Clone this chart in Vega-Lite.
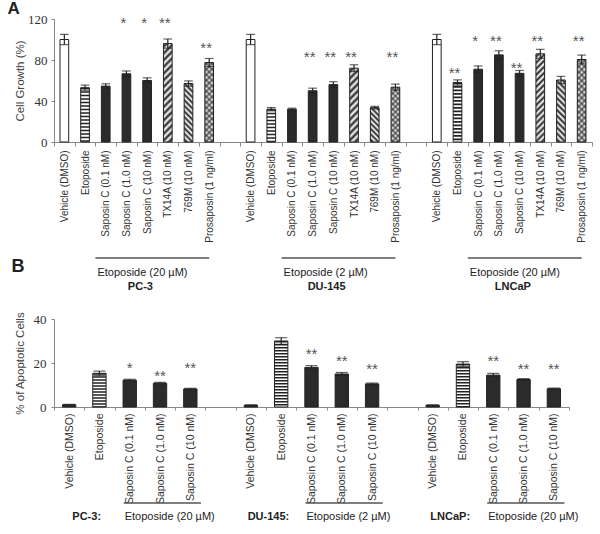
{
"$schema": "https://vega.github.io/schema/vega-lite/v6.json",
"padding": {"left": 7, "top": 0, "right": 0, "bottom": 0},
"background": "white",
"config": {"view": {"stroke": null}, "font": "Liberation Sans"},
"spacing": 0,
"bounds": "flush",
"datasets": {
"a": [
{"key":"PC3|Vehicle (DMSO)","kind":"Vehicle","v":100,"e":5},
{"key":"PC3|Etoposide","kind":"Etoposide","v":53,"e":2.5},
{"key":"PC3|Saposin C (0.1 nM)","kind":"Saposin","v":54.5,"e":2.3},
{"key":"PC3|Saposin C (1.0 nM)","kind":"Saposin","v":66.5,"e":2.8,"star":"*","sy":120},
{"key":"PC3|Saposin C (10 nM)","kind":"Saposin","v":60,"e":2.6,"star":"*","sy":120},
{"key":"PC3|TX14A (10 nM)","kind":"TX14A","v":96,"e":4.5,"star":"**","sy":120},
{"key":"PC3|769M (10 nM)","kind":"769M","v":57,"e":2.6},
{"key":"PC3|Prosaposin (1 ng/ml)","kind":"Prosaposin","v":77.5,"e":4,"star":"**","sy":95},
{"key":"DU|Vehicle (DMSO)","kind":"Vehicle","v":100,"e":5},
{"key":"DU|Etoposide","kind":"Etoposide","v":32,"e":1.6},
{"key":"DU|Saposin C (0.1 nM)","kind":"Saposin","v":32,"e":1},
{"key":"DU|Saposin C (1.0 nM)","kind":"Saposin","v":50,"e":2.5,"star":"**","sy":86},
{"key":"DU|Saposin C (10 nM)","kind":"Saposin","v":56,"e":2.8,"star":"**","sy":86},
{"key":"DU|TX14A (10 nM)","kind":"TX14A","v":72,"e":3.3,"star":"**","sy":86},
{"key":"DU|769M (10 nM)","kind":"769M","v":33.5,"e":1.3},
{"key":"DU|Prosaposin (1 ng/ml)","kind":"Prosaposin","v":53.5,"e":3,"star":"**","sy":86},
{"key":"LN|Vehicle (DMSO)","kind":"Vehicle","v":100,"e":5},
{"key":"LN|Etoposide","kind":"Etoposide","v":58,"e":2.6,"star":"**","sy":71},
{"key":"LN|Saposin C (0.1 nM)","kind":"Saposin","v":71,"e":3.2,"star":"*","sy":102},
{"key":"LN|Saposin C (1.0 nM)","kind":"Saposin","v":85,"e":4,"star":"**","sy":102},
{"key":"LN|Saposin C (10 nM)","kind":"Saposin","v":67,"e":2.8,"star":"**","sy":76},
{"key":"LN|TX14A (10 nM)","kind":"TX14A","v":86,"e":4.4,"star":"**","sy":102},
{"key":"LN|769M (10 nM)","kind":"769M","v":60.5,"e":3.5},
{"key":"LN|Prosaposin (1 ng/ml)","kind":"Prosaposin","v":80.5,"e":4.3,"star":"**","sy":102}
],
"b": [
{"key":"PC3|Vehicle (DMSO)","kind":"Vehicle","v":1,"e":0.2},
{"key":"PC3|Etoposide","kind":"Etoposide","v":15.3,"e":1},
{"key":"PC3|Saposin C (0.1 nM)","kind":"Saposin","v":12.2,"e":0.4,"star":"*","sy":19.4},
{"key":"PC3|Saposin C (1.0 nM)","kind":"Saposin","v":10.8,"e":0.4,"star":"**","sy":15.6},
{"key":"PC3|Saposin C (10 nM)","kind":"Saposin","v":8.2,"e":0.3,"star":"**","sy":19.4},
{"key":"DU|Vehicle (DMSO)","kind":"Vehicle","v":0.8,"e":0.2},
{"key":"DU|Etoposide","kind":"Etoposide","v":30,"e":1.5},
{"key":"DU|Saposin C (0.1 nM)","kind":"Saposin","v":18,"e":0.8,"star":"**","sy":25.6},
{"key":"DU|Saposin C (1.0 nM)","kind":"Saposin","v":15,"e":0.7,"star":"**","sy":22.6},
{"key":"DU|Saposin C (10 nM)","kind":"Saposin","v":10.5,"e":0.4,"star":"**","sy":18.8},
{"key":"LN|Vehicle (DMSO)","kind":"Vehicle","v":0.8,"e":0.2},
{"key":"LN|Etoposide","kind":"Etoposide","v":19.5,"e":1.1},
{"key":"LN|Saposin C (0.1 nM)","kind":"Saposin","v":14.5,"e":0.8,"star":"**","sy":22.6},
{"key":"LN|Saposin C (1.0 nM)","kind":"Saposin","v":12.5,"e":0.4,"star":"**","sy":18.8},
{"key":"LN|Saposin C (10 nM)","kind":"Saposin","v":8.3,"e":0.3,"star":"**","sy":18.8}
],
"annA": [
{"start":"PC3|Saposin C (0.1 nM)","end":"PC3|Prosaposin (1 ng/ml)","dose":"Etoposide (20 µM)","cell":"PC-3"},
{"start":"DU|Saposin C (0.1 nM)","end":"DU|Prosaposin (1 ng/ml)","dose":"Etoposide (2 µM)","cell":"DU-145"},
{"start":"LN|Saposin C (0.1 nM)","end":"LN|Prosaposin (1 ng/ml)","dose":"Etoposide (20 µM)","cell":"LNCaP"}
],
"annB": [
{"start":"PC3|Saposin C (0.1 nM)","end":"PC3|Saposin C (10 nM)","dose":"Etoposide (20 µM)","cell":"PC-3:"},
{"start":"DU|Saposin C (0.1 nM)","end":"DU|Saposin C (10 nM)","dose":"Etoposide (2 µM)","cell":"DU-145:"},
{"start":"LN|Saposin C (0.1 nM)","end":"LN|Saposin C (10 nM)","dose":"Etoposide (20 µM)","cell":"LNCaP:"}
]
},
"vconcat": [
{
"width": 538, "height": 123,
"title": {"text": "A", "anchor": "start", "frame": "bounds", "fontSize": 17, "fontWeight": "bold", "color": "#222", "dx": -7, "offset": -5},
"data": {"name": "a"},
"encoding": {
"x": {"field": "key", "type": "nominal",
"scale": {"domain": ["PC3|Vehicle (DMSO)","PC3|Etoposide","PC3|Saposin C (0.1 nM)","PC3|Saposin C (1.0 nM)","PC3|Saposin C (10 nM)","PC3|TX14A (10 nM)","PC3|769M (10 nM)","PC3|Prosaposin (1 ng/ml)","gap1|","DU|Vehicle (DMSO)","DU|Etoposide","DU|Saposin C (0.1 nM)","DU|Saposin C (1.0 nM)","DU|Saposin C (10 nM)","DU|TX14A (10 nM)","DU|769M (10 nM)","DU|Prosaposin (1 ng/ml)","gap2|","LN|Vehicle (DMSO)","LN|Etoposide","LN|Saposin C (0.1 nM)","LN|Saposin C (1.0 nM)","LN|Saposin C (10 nM)","LN|TX14A (10 nM)","LN|769M (10 nM)","LN|Prosaposin (1 ng/ml)"], "paddingInner": 0, "paddingOuter": 0},
"axis": {"title": null, "labelAngle": -90, "labelExpr": "split(datum.value,'|')[1]", "tickBand": "extent", "tickSize": 4, "labelPadding": 4, "labelFontSize": 10, "labelColor": "#333", "domainColor": "#888", "tickColor": "#888", "labelOverlap": false, "labelLimit": 300}}
},
"layer": [
{"mark": {"type": "bar", "width": {"band": 0.42}, "stroke": "#222", "strokeWidth": 1},
"encoding": {
"y": {"field": "v", "type": "quantitative", "title": "Cell Growth (%)", "scale": {"domain": [0, 120], "nice": false},
"axis": {"values": [0, 40, 80, 120], "grid": false, "tickSize": 3, "labelPadding": 4, "labelFont": "Liberation Serif", "labelFontSize": 13, "labelColor": "#333", "titleFont": "Liberation Sans", "titleFontSize": 11.5, "titleFontWeight": "normal", "titleColor": "#444", "titlePadding": 2, "domainColor": "#888", "tickColor": "#888"}},
"fill": {"condition": [
{"test": "datum.key==='PC3|TX14A (10 nM)'", "value": {"gradient": "linear", "x1": 0, "y1": 0, "x2": 0.0954, "y2": 1.0799, "stops": [{"offset":0,"color":"#fff"},{"offset":0.03125,"color":"#222"},{"offset":0.0625,"color":"#fff"},{"offset":0.09375,"color":"#222"},{"offset":0.125,"color":"#fff"},{"offset":0.15625,"color":"#222"},{"offset":0.1875,"color":"#fff"},{"offset":0.21875,"color":"#222"},{"offset":0.25,"color":"#fff"},{"offset":0.28125,"color":"#222"},{"offset":0.3125,"color":"#fff"},{"offset":0.34375,"color":"#222"},{"offset":0.375,"color":"#fff"},{"offset":0.40625,"color":"#222"},{"offset":0.4375,"color":"#fff"},{"offset":0.46875,"color":"#222"},{"offset":0.5,"color":"#fff"},{"offset":0.53125,"color":"#222"},{"offset":0.5625,"color":"#fff"},{"offset":0.59375,"color":"#222"},{"offset":0.625,"color":"#fff"},{"offset":0.65625,"color":"#222"},{"offset":0.6875,"color":"#fff"},{"offset":0.71875,"color":"#222"},{"offset":0.75,"color":"#fff"},{"offset":0.78125,"color":"#222"},{"offset":0.8125,"color":"#fff"},{"offset":0.84375,"color":"#222"},{"offset":0.875,"color":"#fff"},{"offset":0.90625,"color":"#222"},{"offset":0.9375,"color":"#fff"},{"offset":0.96875,"color":"#222"},{"offset":1,"color":"#fff"}]}},
{"test": "datum.key==='DU|TX14A (10 nM)'", "value": {"gradient": "linear", "x1": 0, "y1": 0, "x2": 0.1299, "y2": 1.1025, "stops": [{"offset":0,"color":"#fff"},{"offset":0.04167,"color":"#222"},{"offset":0.08333,"color":"#fff"},{"offset":0.125,"color":"#222"},{"offset":0.16667,"color":"#fff"},{"offset":0.20833,"color":"#222"},{"offset":0.25,"color":"#fff"},{"offset":0.29167,"color":"#222"},{"offset":0.33333,"color":"#fff"},{"offset":0.375,"color":"#222"},{"offset":0.41667,"color":"#fff"},{"offset":0.45833,"color":"#222"},{"offset":0.5,"color":"#fff"},{"offset":0.54167,"color":"#222"},{"offset":0.58333,"color":"#fff"},{"offset":0.625,"color":"#222"},{"offset":0.66667,"color":"#fff"},{"offset":0.70833,"color":"#222"},{"offset":0.75,"color":"#fff"},{"offset":0.79167,"color":"#222"},{"offset":0.83333,"color":"#fff"},{"offset":0.875,"color":"#222"},{"offset":0.91667,"color":"#fff"},{"offset":0.95833,"color":"#222"},{"offset":1,"color":"#fff"}]}},
{"test": "datum.key==='LN|TX14A (10 nM)'", "value": {"gradient": "linear", "x1": 0, "y1": 0, "x2": 0.1073, "y2": 1.088, "stops": [{"offset":0,"color":"#fff"},{"offset":0.03125,"color":"#222"},{"offset":0.0625,"color":"#fff"},{"offset":0.09375,"color":"#222"},{"offset":0.125,"color":"#fff"},{"offset":0.15625,"color":"#222"},{"offset":0.1875,"color":"#fff"},{"offset":0.21875,"color":"#222"},{"offset":0.25,"color":"#fff"},{"offset":0.28125,"color":"#222"},{"offset":0.3125,"color":"#fff"},{"offset":0.34375,"color":"#222"},{"offset":0.375,"color":"#fff"},{"offset":0.40625,"color":"#222"},{"offset":0.4375,"color":"#fff"},{"offset":0.46875,"color":"#222"},{"offset":0.5,"color":"#fff"},{"offset":0.53125,"color":"#222"},{"offset":0.5625,"color":"#fff"},{"offset":0.59375,"color":"#222"},{"offset":0.625,"color":"#fff"},{"offset":0.65625,"color":"#222"},{"offset":0.6875,"color":"#fff"},{"offset":0.71875,"color":"#222"},{"offset":0.75,"color":"#fff"},{"offset":0.78125,"color":"#222"},{"offset":0.8125,"color":"#fff"},{"offset":0.84375,"color":"#222"},{"offset":0.875,"color":"#fff"},{"offset":0.90625,"color":"#222"},{"offset":0.9375,"color":"#fff"},{"offset":0.96875,"color":"#222"},{"offset":1,"color":"#fff"}]}},
{"test": "datum.key==='PC3|769M (10 nM)'", "value": {"gradient": "linear", "x1": 1, "y1": 0, "x2": 0.8328, "y2": 1.1239, "stops": [{"offset":0,"color":"#fff"},{"offset":0.04167,"color":"#222"},{"offset":0.08333,"color":"#fff"},{"offset":0.125,"color":"#222"},{"offset":0.16667,"color":"#fff"},{"offset":0.20833,"color":"#222"},{"offset":0.25,"color":"#fff"},{"offset":0.29167,"color":"#222"},{"offset":0.33333,"color":"#fff"},{"offset":0.375,"color":"#222"},{"offset":0.41667,"color":"#fff"},{"offset":0.45833,"color":"#222"},{"offset":0.5,"color":"#fff"},{"offset":0.54167,"color":"#222"},{"offset":0.58333,"color":"#fff"},{"offset":0.625,"color":"#222"},{"offset":0.66667,"color":"#fff"},{"offset":0.70833,"color":"#222"},{"offset":0.75,"color":"#fff"},{"offset":0.79167,"color":"#222"},{"offset":0.83333,"color":"#fff"},{"offset":0.875,"color":"#222"},{"offset":0.91667,"color":"#fff"},{"offset":0.95833,"color":"#222"},{"offset":1,"color":"#fff"}]}},
{"test": "datum.key==='DU|769M (10 nM)'", "value": {"gradient": "linear", "x1": 1, "y1": 0, "x2": 0.7017, "y2": 1.1777, "stops": [{"offset":0,"color":"#fff"},{"offset":0.0625,"color":"#222"},{"offset":0.125,"color":"#fff"},{"offset":0.1875,"color":"#222"},{"offset":0.25,"color":"#fff"},{"offset":0.3125,"color":"#222"},{"offset":0.375,"color":"#fff"},{"offset":0.4375,"color":"#222"},{"offset":0.5,"color":"#fff"},{"offset":0.5625,"color":"#222"},{"offset":0.625,"color":"#fff"},{"offset":0.6875,"color":"#222"},{"offset":0.75,"color":"#fff"},{"offset":0.8125,"color":"#222"},{"offset":0.875,"color":"#fff"},{"offset":0.9375,"color":"#222"},{"offset":1,"color":"#fff"}]}},
{"test": "datum.key==='LN|769M (10 nM)'", "value": {"gradient": "linear", "x1": 1, "y1": 0, "x2": 0.8432, "y2": 1.1182, "stops": [{"offset":0,"color":"#fff"},{"offset":0.04167,"color":"#222"},{"offset":0.08333,"color":"#fff"},{"offset":0.125,"color":"#222"},{"offset":0.16667,"color":"#fff"},{"offset":0.20833,"color":"#222"},{"offset":0.25,"color":"#fff"},{"offset":0.29167,"color":"#222"},{"offset":0.33333,"color":"#fff"},{"offset":0.375,"color":"#222"},{"offset":0.41667,"color":"#fff"},{"offset":0.45833,"color":"#222"},{"offset":0.5,"color":"#fff"},{"offset":0.54167,"color":"#222"},{"offset":0.58333,"color":"#fff"},{"offset":0.625,"color":"#222"},{"offset":0.66667,"color":"#fff"},{"offset":0.70833,"color":"#222"},{"offset":0.75,"color":"#fff"},{"offset":0.79167,"color":"#222"},{"offset":0.83333,"color":"#fff"},{"offset":0.875,"color":"#222"},{"offset":0.91667,"color":"#fff"},{"offset":0.95833,"color":"#222"},{"offset":1,"color":"#fff"}]}},
{"test": "datum.key==='PC3|Prosaposin (1 ng/ml)'", "value": {"gradient": "linear", "x1": 0, "y1": 0, "x2": 0.1199, "y2": 1.0963, "stops": [{"offset":0,"color":"#fff"},{"offset":0.03125,"color":"#777"},{"offset":0.0625,"color":"#fff"},{"offset":0.09375,"color":"#777"},{"offset":0.125,"color":"#fff"},{"offset":0.15625,"color":"#777"},{"offset":0.1875,"color":"#fff"},{"offset":0.21875,"color":"#777"},{"offset":0.25,"color":"#fff"},{"offset":0.28125,"color":"#777"},{"offset":0.3125,"color":"#fff"},{"offset":0.34375,"color":"#777"},{"offset":0.375,"color":"#fff"},{"offset":0.40625,"color":"#777"},{"offset":0.4375,"color":"#fff"},{"offset":0.46875,"color":"#777"},{"offset":0.5,"color":"#fff"},{"offset":0.53125,"color":"#777"},{"offset":0.5625,"color":"#fff"},{"offset":0.59375,"color":"#777"},{"offset":0.625,"color":"#fff"},{"offset":0.65625,"color":"#777"},{"offset":0.6875,"color":"#fff"},{"offset":0.71875,"color":"#777"},{"offset":0.75,"color":"#fff"},{"offset":0.78125,"color":"#777"},{"offset":0.8125,"color":"#fff"},{"offset":0.84375,"color":"#777"},{"offset":0.875,"color":"#fff"},{"offset":0.90625,"color":"#777"},{"offset":0.9375,"color":"#fff"},{"offset":0.96875,"color":"#777"},{"offset":1,"color":"#fff"}]}},
{"test": "datum.key==='DU|Prosaposin (1 ng/ml)'", "value": {"gradient": "linear", "x1": 0, "y1": 0, "x2": 0.1792, "y2": 1.1302, "stops": [{"offset":0,"color":"#fff"},{"offset":0.04167,"color":"#777"},{"offset":0.08333,"color":"#fff"},{"offset":0.125,"color":"#777"},{"offset":0.16667,"color":"#fff"},{"offset":0.20833,"color":"#777"},{"offset":0.25,"color":"#fff"},{"offset":0.29167,"color":"#777"},{"offset":0.33333,"color":"#fff"},{"offset":0.375,"color":"#777"},{"offset":0.41667,"color":"#fff"},{"offset":0.45833,"color":"#777"},{"offset":0.5,"color":"#fff"},{"offset":0.54167,"color":"#777"},{"offset":0.58333,"color":"#fff"},{"offset":0.625,"color":"#777"},{"offset":0.66667,"color":"#fff"},{"offset":0.70833,"color":"#777"},{"offset":0.75,"color":"#fff"},{"offset":0.79167,"color":"#777"},{"offset":0.83333,"color":"#fff"},{"offset":0.875,"color":"#777"},{"offset":0.91667,"color":"#fff"},{"offset":0.95833,"color":"#777"},{"offset":1,"color":"#fff"}]}},
{"test": "datum.key==='LN|Prosaposin (1 ng/ml)'", "value": {"gradient": "linear", "x1": 0, "y1": 0, "x2": 0.1151, "y2": 1.0932, "stops": [{"offset":0,"color":"#fff"},{"offset":0.03125,"color":"#777"},{"offset":0.0625,"color":"#fff"},{"offset":0.09375,"color":"#777"},{"offset":0.125,"color":"#fff"},{"offset":0.15625,"color":"#777"},{"offset":0.1875,"color":"#fff"},{"offset":0.21875,"color":"#777"},{"offset":0.25,"color":"#fff"},{"offset":0.28125,"color":"#777"},{"offset":0.3125,"color":"#fff"},{"offset":0.34375,"color":"#777"},{"offset":0.375,"color":"#fff"},{"offset":0.40625,"color":"#777"},{"offset":0.4375,"color":"#fff"},{"offset":0.46875,"color":"#777"},{"offset":0.5,"color":"#fff"},{"offset":0.53125,"color":"#777"},{"offset":0.5625,"color":"#fff"},{"offset":0.59375,"color":"#777"},{"offset":0.625,"color":"#fff"},{"offset":0.65625,"color":"#777"},{"offset":0.6875,"color":"#fff"},{"offset":0.71875,"color":"#777"},{"offset":0.75,"color":"#fff"},{"offset":0.78125,"color":"#777"},{"offset":0.8125,"color":"#fff"},{"offset":0.84375,"color":"#777"},{"offset":0.875,"color":"#fff"},{"offset":0.90625,"color":"#777"},{"offset":0.9375,"color":"#fff"},{"offset":0.96875,"color":"#777"},{"offset":1,"color":"#fff"}]}},
{"test": "datum.kind==='Saposin'", "value": "#2b2b2b"}
], "value": "#ffffff"}
}},
{"transform": [{"filter": "datum.kind==='Prosaposin'"}],
"mark": {"type": "bar", "width": {"band": 0.42}, "strokeWidth": 0},
"encoding": {
"y": {"field": "v", "type": "quantitative", "title": "Cell Growth (%)"},
"fill": {"condition": [
{"test": "datum.key==='PC3|Prosaposin (1 ng/ml)'", "value": {"gradient": "linear", "x1": 1, "y1": 0, "x2": 0.8801, "y2": 1.0963, "stops": [{"offset":0,"color":"rgba(0,0,0,0)"},{"offset":0.03125,"color":"rgba(34,34,34,0.6)"},{"offset":0.0625,"color":"rgba(0,0,0,0)"},{"offset":0.09375,"color":"rgba(34,34,34,0.6)"},{"offset":0.125,"color":"rgba(0,0,0,0)"},{"offset":0.15625,"color":"rgba(34,34,34,0.6)"},{"offset":0.1875,"color":"rgba(0,0,0,0)"},{"offset":0.21875,"color":"rgba(34,34,34,0.6)"},{"offset":0.25,"color":"rgba(0,0,0,0)"},{"offset":0.28125,"color":"rgba(34,34,34,0.6)"},{"offset":0.3125,"color":"rgba(0,0,0,0)"},{"offset":0.34375,"color":"rgba(34,34,34,0.6)"},{"offset":0.375,"color":"rgba(0,0,0,0)"},{"offset":0.40625,"color":"rgba(34,34,34,0.6)"},{"offset":0.4375,"color":"rgba(0,0,0,0)"},{"offset":0.46875,"color":"rgba(34,34,34,0.6)"},{"offset":0.5,"color":"rgba(0,0,0,0)"},{"offset":0.53125,"color":"rgba(34,34,34,0.6)"},{"offset":0.5625,"color":"rgba(0,0,0,0)"},{"offset":0.59375,"color":"rgba(34,34,34,0.6)"},{"offset":0.625,"color":"rgba(0,0,0,0)"},{"offset":0.65625,"color":"rgba(34,34,34,0.6)"},{"offset":0.6875,"color":"rgba(0,0,0,0)"},{"offset":0.71875,"color":"rgba(34,34,34,0.6)"},{"offset":0.75,"color":"rgba(0,0,0,0)"},{"offset":0.78125,"color":"rgba(34,34,34,0.6)"},{"offset":0.8125,"color":"rgba(0,0,0,0)"},{"offset":0.84375,"color":"rgba(34,34,34,0.6)"},{"offset":0.875,"color":"rgba(0,0,0,0)"},{"offset":0.90625,"color":"rgba(34,34,34,0.6)"},{"offset":0.9375,"color":"rgba(0,0,0,0)"},{"offset":0.96875,"color":"rgba(34,34,34,0.6)"},{"offset":1,"color":"rgba(0,0,0,0)"}]}},
{"test": "datum.key==='DU|Prosaposin (1 ng/ml)'", "value": {"gradient": "linear", "x1": 1, "y1": 0, "x2": 0.8208, "y2": 1.1302, "stops": [{"offset":0,"color":"rgba(0,0,0,0)"},{"offset":0.04167,"color":"rgba(34,34,34,0.6)"},{"offset":0.08333,"color":"rgba(0,0,0,0)"},{"offset":0.125,"color":"rgba(34,34,34,0.6)"},{"offset":0.16667,"color":"rgba(0,0,0,0)"},{"offset":0.20833,"color":"rgba(34,34,34,0.6)"},{"offset":0.25,"color":"rgba(0,0,0,0)"},{"offset":0.29167,"color":"rgba(34,34,34,0.6)"},{"offset":0.33333,"color":"rgba(0,0,0,0)"},{"offset":0.375,"color":"rgba(34,34,34,0.6)"},{"offset":0.41667,"color":"rgba(0,0,0,0)"},{"offset":0.45833,"color":"rgba(34,34,34,0.6)"},{"offset":0.5,"color":"rgba(0,0,0,0)"},{"offset":0.54167,"color":"rgba(34,34,34,0.6)"},{"offset":0.58333,"color":"rgba(0,0,0,0)"},{"offset":0.625,"color":"rgba(34,34,34,0.6)"},{"offset":0.66667,"color":"rgba(0,0,0,0)"},{"offset":0.70833,"color":"rgba(34,34,34,0.6)"},{"offset":0.75,"color":"rgba(0,0,0,0)"},{"offset":0.79167,"color":"rgba(34,34,34,0.6)"},{"offset":0.83333,"color":"rgba(0,0,0,0)"},{"offset":0.875,"color":"rgba(34,34,34,0.6)"},{"offset":0.91667,"color":"rgba(0,0,0,0)"},{"offset":0.95833,"color":"rgba(34,34,34,0.6)"},{"offset":1,"color":"rgba(0,0,0,0)"}]}}
], "value": {"gradient": "linear", "x1": 1, "y1": 0, "x2": 0.8849, "y2": 1.0932, "stops": [{"offset":0,"color":"rgba(0,0,0,0)"},{"offset":0.03125,"color":"rgba(34,34,34,0.6)"},{"offset":0.0625,"color":"rgba(0,0,0,0)"},{"offset":0.09375,"color":"rgba(34,34,34,0.6)"},{"offset":0.125,"color":"rgba(0,0,0,0)"},{"offset":0.15625,"color":"rgba(34,34,34,0.6)"},{"offset":0.1875,"color":"rgba(0,0,0,0)"},{"offset":0.21875,"color":"rgba(34,34,34,0.6)"},{"offset":0.25,"color":"rgba(0,0,0,0)"},{"offset":0.28125,"color":"rgba(34,34,34,0.6)"},{"offset":0.3125,"color":"rgba(0,0,0,0)"},{"offset":0.34375,"color":"rgba(34,34,34,0.6)"},{"offset":0.375,"color":"rgba(0,0,0,0)"},{"offset":0.40625,"color":"rgba(34,34,34,0.6)"},{"offset":0.4375,"color":"rgba(0,0,0,0)"},{"offset":0.46875,"color":"rgba(34,34,34,0.6)"},{"offset":0.5,"color":"rgba(0,0,0,0)"},{"offset":0.53125,"color":"rgba(34,34,34,0.6)"},{"offset":0.5625,"color":"rgba(0,0,0,0)"},{"offset":0.59375,"color":"rgba(34,34,34,0.6)"},{"offset":0.625,"color":"rgba(0,0,0,0)"},{"offset":0.65625,"color":"rgba(34,34,34,0.6)"},{"offset":0.6875,"color":"rgba(0,0,0,0)"},{"offset":0.71875,"color":"rgba(34,34,34,0.6)"},{"offset":0.75,"color":"rgba(0,0,0,0)"},{"offset":0.78125,"color":"rgba(34,34,34,0.6)"},{"offset":0.8125,"color":"rgba(0,0,0,0)"},{"offset":0.84375,"color":"rgba(34,34,34,0.6)"},{"offset":0.875,"color":"rgba(0,0,0,0)"},{"offset":0.90625,"color":"rgba(34,34,34,0.6)"},{"offset":0.9375,"color":"rgba(0,0,0,0)"},{"offset":0.96875,"color":"rgba(34,34,34,0.6)"},{"offset":1,"color":"rgba(0,0,0,0)"}]}}
}},
{"transform": [{"filter": "datum.kind==='Etoposide'"}],
"mark": {"type": "rule", "strokeWidth": 8.7, "strokeDash": [1.6, 1.9], "color": "#222"},
"encoding": {"y": {"field": "v", "type": "quantitative", "title": "Cell Growth (%)"}, "y2": {"datum": 0}}},
{"mark": {"type": "errorbar", "ticks": {"size": 8.7, "thickness": 1.2, "color": "#222"}, "rule": {"color": "#222", "strokeWidth": 1.2}},
"encoding": {"y": {"field": "v", "type": "quantitative", "title": "Cell Growth (%)"}, "yError": {"field": "e"}}},
{"transform": [{"filter": "isValid(datum.star)"}],
"mark": {"type": "text", "fontSize": 15, "color": "#555", "dx": -3, "dy": 8.5, "baseline": "alphabetic"},
"encoding": {"y": {"field": "sy", "type": "quantitative", "title": "Cell Growth (%)"}, "text": {"field": "star"}}}
]
},
{
"width": 538, "height": 177,
"data": {"name": "annA"},
"encoding": {
"x": {"field": "start", "type": "nominal", "bandPosition": 0,
"scale": {"domain": ["PC3|Vehicle (DMSO)","PC3|Etoposide","PC3|Saposin C (0.1 nM)","PC3|Saposin C (1.0 nM)","PC3|Saposin C (10 nM)","PC3|TX14A (10 nM)","PC3|769M (10 nM)","PC3|Prosaposin (1 ng/ml)","gap1|","DU|Vehicle (DMSO)","DU|Etoposide","DU|Saposin C (0.1 nM)","DU|Saposin C (1.0 nM)","DU|Saposin C (10 nM)","DU|TX14A (10 nM)","DU|769M (10 nM)","DU|Prosaposin (1 ng/ml)","gap2|","LN|Vehicle (DMSO)","LN|Etoposide","LN|Saposin C (0.1 nM)","LN|Saposin C (1.0 nM)","LN|Saposin C (10 nM)","LN|TX14A (10 nM)","LN|769M (10 nM)","LN|Prosaposin (1 ng/ml)"], "paddingInner": 0, "paddingOuter": 0},
"axis": null}
},
"layer": [
{"mark": {"type": "rule", "color": "#555", "strokeWidth": 1.3},
"encoding": {"x2": {"field": "end", "bandPosition": 0.5},
"y": {"datum": "rule", "type": "ordinal", "scale": {"type": "point", "domain": ["rule", "dose", "cell"], "range": [116, 145], "padding": 0}, "axis": null}}},
{"mark": {"type": "text", "align": "left", "dx": 2, "fontSize": 11, "color": "#222"},
"encoding": {"y": {"datum": "dose", "type": "ordinal"}, "text": {"field": "dose"}}},
{"mark": {"type": "text", "align": "center", "dx": 45, "fontSize": 11, "fontWeight": "bold", "color": "#222"},
"encoding": {"y": {"datum": "cell", "type": "ordinal"}, "text": {"field": "cell"}}}
]
},
{
"width": 515, "height": 88,
"title": {"text": "B", "anchor": "start", "frame": "bounds", "fontSize": 18, "fontWeight": "bold", "color": "#222", "dx": -2.5, "offset": 36},
"data": {"name": "b"},
"encoding": {
"x": {"field": "key", "type": "nominal",
"scale": {"domain": ["PC3|Vehicle (DMSO)","PC3|Etoposide","PC3|Saposin C (0.1 nM)","PC3|Saposin C (1.0 nM)","PC3|Saposin C (10 nM)","gap1|","DU|Vehicle (DMSO)","DU|Etoposide","DU|Saposin C (0.1 nM)","DU|Saposin C (1.0 nM)","DU|Saposin C (10 nM)","gap2|","LN|Vehicle (DMSO)","LN|Etoposide","LN|Saposin C (0.1 nM)","LN|Saposin C (1.0 nM)","LN|Saposin C (10 nM)"], "paddingInner": 0, "paddingOuter": 0},
"axis": {"title": null, "labelAngle": -90, "labelExpr": "split(datum.value,'|')[1]", "tickBand": "extent", "tickSize": 3, "labelPadding": 3, "labelFontSize": 10.5, "labelColor": "#333", "domainColor": "#888", "tickColor": "#888", "labelOverlap": false, "labelLimit": 300}}
},
"layer": [
{"mark": {"type": "bar", "width": {"band": 0.44}, "stroke": "#222", "strokeWidth": 1},
"encoding": {
"y": {"field": "v", "type": "quantitative", "title": "% of Apoptotic Cells", "scale": {"domain": [0, 40], "nice": false},
"axis": {"values": [0, 10, 20, 30, 40], "grid": false, "tickSize": 3, "labelPadding": 5, "labelFont": "Liberation Serif", "labelFontSize": 13, "labelColor": "#333", "titleFont": "Liberation Sans", "titleFontSize": 11.5, "titleFontWeight": "normal", "titleColor": "#444", "titlePadding": 8, "domainColor": "#888", "tickColor": "#888"}},
"fill": {"condition": {"test": "datum.kind==='Etoposide'", "value": "#ffffff"}, "value": "#2b2b2b"}
}},
{"transform": [{"filter": "datum.kind==='Etoposide'"}],
"mark": {"type": "rule", "strokeWidth": 13.3, "strokeDash": [1.4, 1.6], "color": "#222"},
"encoding": {"y": {"field": "v", "type": "quantitative", "title": "% of Apoptotic Cells"}, "y2": {"datum": 0}}},
{"mark": {"type": "errorbar", "ticks": {"size": 12, "thickness": 1.2, "color": "#222"}, "rule": {"color": "#222", "strokeWidth": 1.2}},
"encoding": {"y": {"field": "v", "type": "quantitative", "title": "% of Apoptotic Cells"}, "yError": {"field": "e"}}},
{"transform": [{"filter": "isValid(datum.star)"}],
"mark": {"type": "text", "fontSize": 15, "color": "#555", "dy": 8.5, "baseline": "alphabetic"},
"encoding": {"y": {"field": "sy", "type": "quantitative", "title": "% of Apoptotic Cells"}, "text": {"field": "star"}}}
]
},
{
"width": 515, "height": 120,
"data": {"name": "annB"},
"encoding": {
"x": {"field": "start", "type": "nominal", "bandPosition": 0.3,
"scale": {"domain": ["PC3|Vehicle (DMSO)","PC3|Etoposide","PC3|Saposin C (0.1 nM)","PC3|Saposin C (1.0 nM)","PC3|Saposin C (10 nM)","gap1|","DU|Vehicle (DMSO)","DU|Etoposide","DU|Saposin C (0.1 nM)","DU|Saposin C (1.0 nM)","DU|Saposin C (10 nM)","gap2|","LN|Vehicle (DMSO)","LN|Etoposide","LN|Saposin C (0.1 nM)","LN|Saposin C (1.0 nM)","LN|Saposin C (10 nM)"], "paddingInner": 0, "paddingOuter": 0},
"axis": null}
},
"layer": [
{"mark": {"type": "rule", "color": "#555", "strokeWidth": 1.3},
"encoding": {"x2": {"field": "end", "bandPosition": 0.85},
"y": {"datum": "rule", "type": "ordinal", "scale": {"type": "point", "domain": ["rule", "text"], "range": [96, 110], "padding": 0}, "axis": null}}},
{"mark": {"type": "text", "align": "left", "dx": 1, "fontSize": 11, "color": "#222"},
"encoding": {"y": {"datum": "text", "type": "ordinal"}, "text": {"field": "dose"}}},
{"mark": {"type": "text", "align": "center", "dx": -37, "fontSize": 11, "fontWeight": "bold", "color": "#222"},
"encoding": {"y": {"datum": "text", "type": "ordinal"}, "text": {"field": "cell"}}}
]
}
]
}
